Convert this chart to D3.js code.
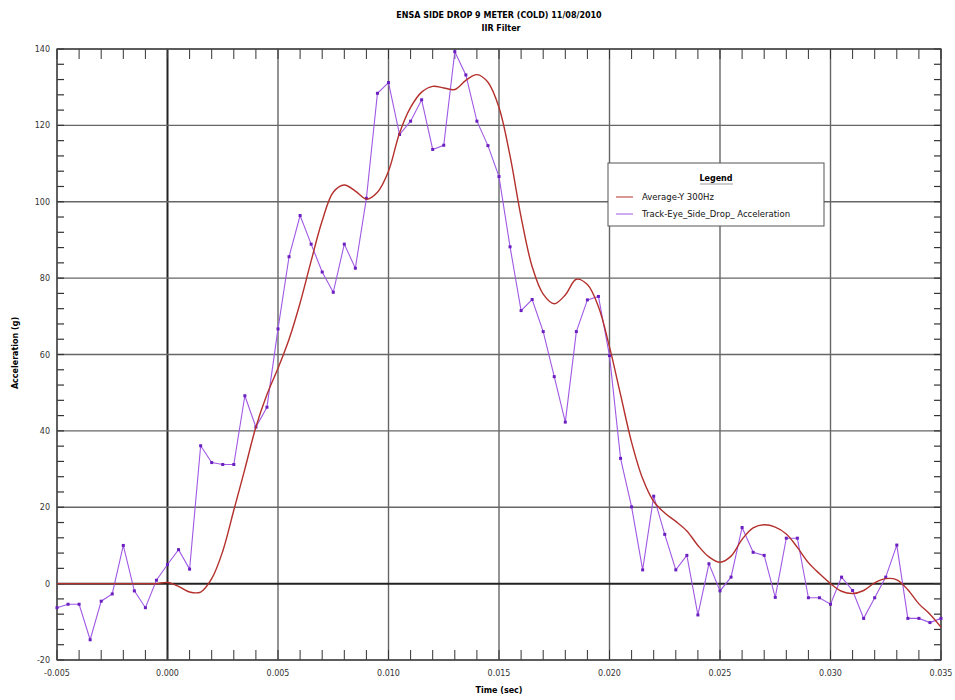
<!DOCTYPE html>
<head>
    <meta charset="utf-8"/>
    <script src="https://d3js.org/d3.v7.min.js"></script>
    <style>
        body {
            margin: 0;
            background: #fff;
        }
        text {
            font-family: "DejaVu Sans", Verdana, sans-serif;
        }
    </style>
</head>

<body>
<script>
    // temps des echantillons (sec), pas de 0.0005
    var times = d3.range(81).map(function (i) {
        return +(-0.005 + i * 0.0005).toFixed(4);
    });

    // Track-Eye_Side_Drop_ Acceleration (g)
    var trackEye = [
        -6.3, -5.4, -5.4, -14.7, -4.6, -2.7, 10.0, -1.9, -6.3, 0.9,
        5.0, 8.9, 3.8, 36.1, 31.7, 31.2, 31.2, 49.2, 41.0, 46.2,
        66.7, 85.6, 96.4, 88.9, 81.6, 76.3, 88.9, 82.6, 100.9, 128.4,
        131.2, 117.6, 121.1, 126.7, 113.7, 114.8, 139.3, 133.2, 121.1, 114.7,
        106.6, 88.2, 71.5, 74.4, 66.0, 54.2, 42.3, 66.0, 74.3, 75.2,
        59.7, 32.8, 20.1, 3.6, 22.9, 12.9, 3.6, 7.4, -8.2, 5.2,
        -1.9, 1.7, 14.7, 8.2, 7.4, -3.6, 11.9, 11.9, -3.7, -3.7,
        -5.4, 1.7, -1.8, -9.1, -3.7, 1.7, 10.1, -9.1, -9.1, -10.2,
        -9.1
    ];

    // Average-Y 300Hz (g)
    var averageY = [
        0, 0, 0, 0, 0, 0, 0, 0, 0, 0,
        0.3, -0.7, -2.2, -2.2, 1.3, 8.5, 19.2, 30, 41, 49.5,
        56.4, 64, 73.5, 84.5, 95, 102.5, 104.4, 102.8, 100.7, 102.5,
        108, 118, 124.7, 128.7, 130.2, 129.8, 129.4, 131.8, 133.3, 131.3,
        124.7, 112, 96, 83, 75.8, 73.3, 75.6, 79.7, 78.3, 72.5,
        62, 49.5, 37, 27.5, 21.5, 18.5, 16.3, 13.8, 10, 7,
        5.6, 7.2, 11.6, 14.6, 15.4, 14.8, 13, 9.5, 5.5, 2.6,
        0, -2, -2.6, -1.8, 0.2, 1.3, 1.0, -1.6, -5.3, -8,
        -11.4
    ];

    var xTicks = [-0.005, 0.000, 0.005, 0.010, 0.015, 0.020, 0.025, 0.030, 0.035];
    var yTicks = [-20, 0, 20, 40, 60, 80, 100, 120, 140];
    var seriesNames = ["Average-Y 300Hz", "Track-Eye_Side_Drop_ Acceleration"];
    var seriesColors = ["#b3302c", "#a059e4"];

    var width = 955,
        height = 700,
        margin = {top: 49, right: 14, bottom: 40, left: 57};

    var svg = d3.select("body")
        .append("svg")
        .attr("width", width)
        .attr("height", height);

    var x = d3.scaleLinear().domain([-0.005, 0.035]).range([margin.left, 941]);
    var y = d3.scaleLinear().domain([-20, 140]).range([660, margin.top]);

    // titre
    svg.append("text")
        .attr("x", 499).attr("y", 18)
        .attr("text-anchor", "middle")
        .style("font-size", "8px").style("font-weight", "bold")
        .text("ENSA SIDE DROP 9 METER (COLD) 11/08/2010");
    svg.append("text")
        .attr("x", 501).attr("y", 31)
        .attr("text-anchor", "middle")
        .style("font-size", "8px").style("font-weight", "bold")
        .text("IIR Filter");

    // grille
    var g = svg.append("g");
    g.selectAll(".vgrid").data(xTicks).join("line")
        .attr("x1", function (d) { return x(d); })
        .attr("x2", function (d) { return x(d); })
        .attr("y1", y(140)).attr("y2", y(-20))
        .attr("stroke", function (d) { return d === 0 ? "#222" : "#666"; })
        .attr("stroke-width", function (d) { return d === 0 ? 2 : 1.4; });
    g.selectAll(".hgrid").data(yTicks).join("line")
        .attr("y1", function (d) { return y(d); })
        .attr("y2", function (d) { return y(d); })
        .attr("x1", x(-0.005)).attr("x2", x(0.035))
        .attr("stroke", function (d) { return d === 0 ? "#222" : "#666"; })
        .attr("stroke-width", function (d) { return d === 0 ? 2 : 1.4; });

    // petites graduations vers l'interieur
    var xMinor = d3.range(-5, 36).map(function (i) { return i / 1000; });
    var yMinor = d3.range(-20, 141, 4);
    g.selectAll(".xt").data(xMinor).join("line")
        .attr("x1", function (d) { return x(d); })
        .attr("x2", function (d) { return x(d); })
        .attr("y1", y(-20)).attr("y2", y(-20) - 10)
        .attr("stroke", "#333").attr("stroke-width", 1);
    g.selectAll(".xb").data(xMinor).join("line")
        .attr("x1", function (d) { return x(d); })
        .attr("x2", function (d) { return x(d); })
        .attr("y1", y(140)).attr("y2", y(140) + 10)
        .attr("stroke", "#333").attr("stroke-width", 1);
    g.selectAll(".yl").data(yMinor).join("line")
        .attr("y1", function (d) { return y(d); })
        .attr("y2", function (d) { return y(d); })
        .attr("x1", x(-0.005)).attr("x2", x(-0.005) + 7)
        .attr("stroke", "#333").attr("stroke-width", 1.2);
    g.selectAll(".yr").data(yMinor).join("line")
        .attr("y1", function (d) { return y(d); })
        .attr("y2", function (d) { return y(d); })
        .attr("x1", x(0.035)).attr("x2", x(0.035) - 7)
        .attr("stroke", "#333").attr("stroke-width", 1.2);

    // cadre
    g.append("rect")
        .attr("x", x(-0.005)).attr("y", y(140))
        .attr("width", x(0.035) - x(-0.005)).attr("height", y(-20) - y(140))
        .attr("fill", "none").attr("stroke", "#444").attr("stroke-width", 1.3);

    // etiquettes des axes
    svg.selectAll(".xlab").data(xTicks).join("text")
        .attr("x", function (d) { return x(d); })
        .attr("y", 676)
        .attr("text-anchor", "middle")
        .style("font-size", "8px").style("fill", "#333")
        .text(function (d) { return d3.format(".3f")(d).replace("−", "-"); });
    svg.selectAll(".ylab").data(yTicks).join("text")
        .attr("x", 50)
        .attr("y", function (d) { return y(d) + 3; })
        .attr("text-anchor", "end")
        .style("font-size", "8px").style("fill", "#333")
        .text(function (d) { return d; });

    svg.append("text")
        .attr("x", 499).attr("y", 693)
        .attr("text-anchor", "middle")
        .style("font-size", "8px").style("font-weight", "bold")
        .text("Time (sec)");
    svg.append("text")
        .attr("transform", "translate(18,353) rotate(-90)")
        .attr("text-anchor", "middle")
        .style("font-size", "8px").style("font-weight", "bold")
        .text("Acceleration (g)");

    // courbes
    var avgLine = d3.line()
        .x(function (d, i) { return x(times[i]); })
        .y(function (d) { return y(d); })
        .curve(d3.curveCatmullRom.alpha(0.5));
    var trackLine = d3.line()
        .x(function (d, i) { return x(times[i]); })
        .y(function (d) { return y(d); });

    svg.append("path")
        .datum(trackEye)
        .attr("d", trackLine)
        .attr("fill", "none")
        .attr("stroke", seriesColors[1])
        .attr("stroke-width", 1.1);

    svg.selectAll(".pt").data(trackEye).join("rect")
        .attr("x", function (d, i) { return x(times[i]) - 1.5; })
        .attr("y", function (d) { return y(d) - 1.5; })
        .attr("width", 3).attr("height", 3)
        .attr("fill", "#6a1fc0");

    svg.append("path")
        .datum(averageY)
        .attr("d", avgLine)
        .attr("fill", "none")
        .attr("stroke", seriesColors[0])
        .attr("stroke-width", 1.4);

    // legende
    var leg = svg.append("g").attr("transform", "translate(608,163)");
    leg.append("rect")
        .attr("width", 216).attr("height", 63)
        .attr("fill", "#fff").attr("stroke", "#555").attr("stroke-width", 1);
    leg.append("text")
        .attr("x", 108).attr("y", 18)
        .attr("text-anchor", "middle")
        .style("font-size", "8px").style("font-weight", "bold")
        .text("Legend");
    leg.append("line")
        .attr("x1", 92).attr("x2", 125).attr("y1", 21).attr("y2", 21)
        .attr("stroke", "#999").attr("stroke-width", 1);
    seriesNames.forEach(function (name, i) {
        leg.append("line")
            .attr("x1", 8).attr("x2", 25)
            .attr("y1", 34 + i * 17).attr("y2", 34 + i * 17)
            .attr("stroke", seriesColors[i]).attr("stroke-width", 1);
        leg.append("text")
            .attr("x", 34).attr("y", 37 + i * 17)
            .style("font-size", "8.5px").style("fill", "#111")
            .text(name);
    });
</script>
</body>
